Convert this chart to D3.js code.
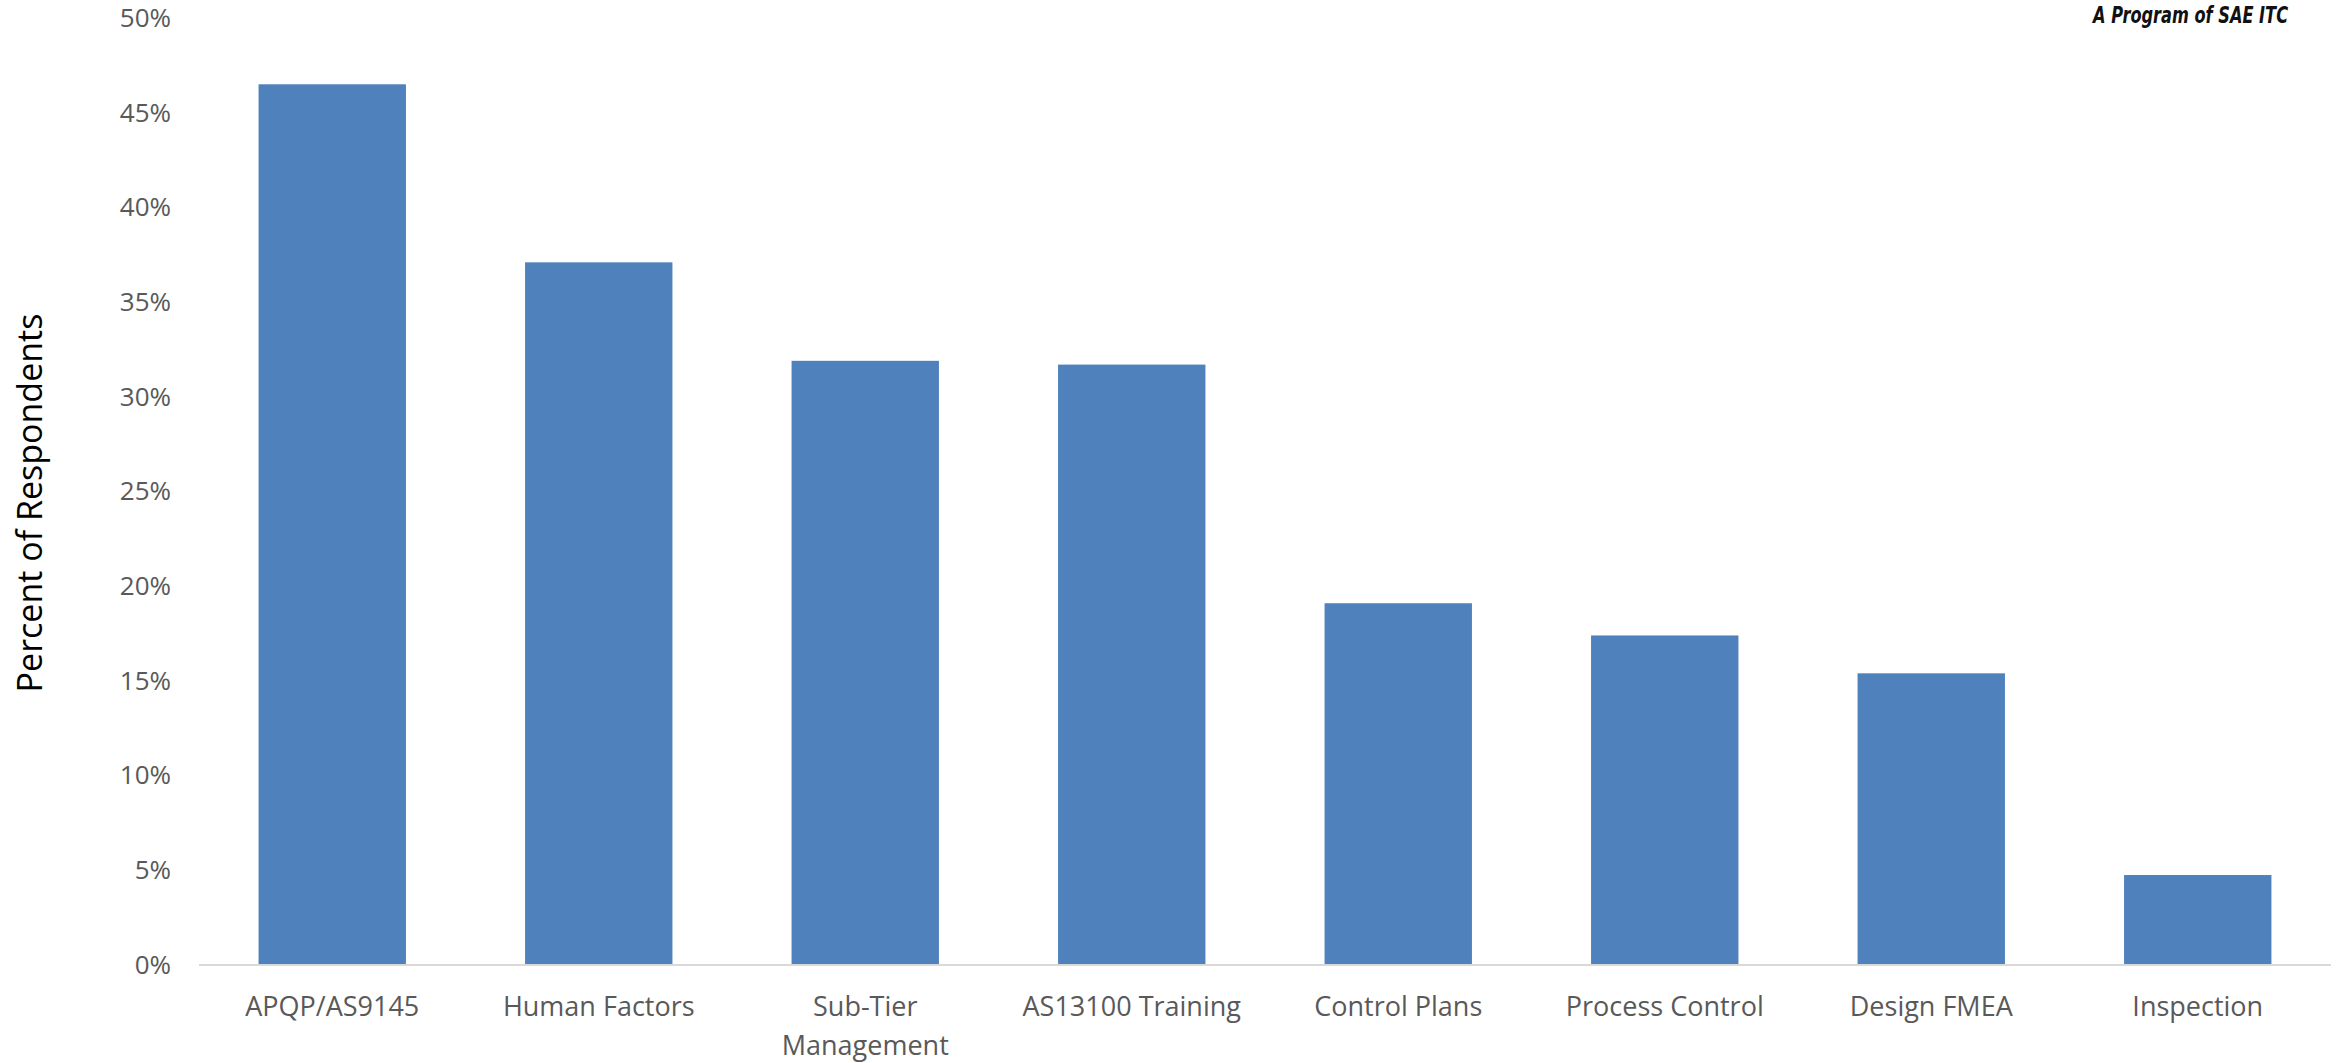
<!DOCTYPE html>
<html>
<head>
<meta charset="utf-8">
<script src="https://cdn.jsdelivr.net/npm/d3@7"></script>
<style>
  html, body { margin: 0; padding: 0; background: #fff; }
  svg { display: block; }
</style>
</head>
<body>
<svg id="chart" width="2348" height="1063"></svg>
<script>
const categories = ["APQP/AS9145", "Human Factors", "Sub-Tier Management", "AS13100 Training",
                    "Control Plans", "Process Control", "Design FMEA", "Inspection"];
const values = [0.465, 0.371, 0.319, 0.317, 0.191, 0.174, 0.154, 0.0475];
const yTicks = [0, 0.05, 0.10, 0.15, 0.20, 0.25, 0.30, 0.35, 0.40, 0.45, 0.50];
const yTitle = "Percent of Respondents";
const sourceNote = "A Program of SAE ITC";

const svg = d3.select("#chart");
const plotLeft = 199, plotRight = 2331, plotTop = 18, plotBottom = 965;

const x = d3.scaleBand().domain(categories).range([plotLeft, plotRight])
  .paddingInner(0.447).paddingOuter(0.2235);
const y = d3.scaleLinear().domain([0, 0.5]).range([plotBottom, plotTop]);

// bars
svg.append("g").selectAll("rect").data(values).join("rect")
  .attr("x", (d, i) => x(categories[i]))
  .attr("width", x.bandwidth())
  .attr("y", d => y(d))
  .attr("height", d => y(0) - y(d))
  .attr("fill", "#4F81BD");

// y axis
const yAxis = svg.append("g").attr("transform", `translate(${plotLeft},0)`)
  .call(d3.axisLeft(y).tickValues(yTicks).tickFormat(d3.format(".0%")).tickSize(0).tickPadding(28));
yAxis.select(".domain").remove();
yAxis.selectAll("text")
  .attr("font-family", "'Open Sans', sans-serif")
  .attr("font-size", 26)
  .attr("fill", "#595959");

// x axis
const xAxis = svg.append("g").attr("transform", `translate(0,${plotBottom})`)
  .call(d3.axisBottom(x).tickSize(0).tickPadding(0));
xAxis.select(".domain").attr("stroke", "#D9D9D9").attr("stroke-width", 2)
  .attr("d", `M${plotLeft},0H${plotRight}`);
xAxis.selectAll("text")
  .attr("font-family", "'Open Sans', sans-serif")
  .attr("font-size", 27)
  .attr("fill", "#595959")
  .attr("y", 0).attr("dy", null)
  .each(function(d) {
    const t = d3.select(this);
    t.text(null);
    const words = d.split(" ");
    let lines = [], cur = [];
    const probe = t.append("tspan");
    words.forEach(w => {
      const test = cur.concat([w]).join(" ");
      probe.text(test);
      if (probe.node().getComputedTextLength() > 230 && cur.length) {
        lines.push(cur.join(" "));
        cur = [w];
      } else cur.push(w);
    });
    lines.push(cur.join(" "));
    probe.remove();
    lines.forEach((ln, i) => {
      t.append("tspan").attr("x", 0).attr("y", 51 + i * 39).text(ln);
    });
  });

// y axis title
svg.append("text")
  .attr("transform", `translate(42,503) rotate(-90)`)
  .attr("text-anchor", "middle")
  .attr("font-family", "'Open Sans', sans-serif")
  .attr("font-size", 34)
  .attr("fill", "#000")
  .text(yTitle);

// source note
svg.append("text")
  .attr("x", 2288).attr("y", 23)
  .attr("text-anchor", "end")
  .attr("font-family", "'Liberation Sans Narrow', 'DejaVu Sans Condensed', 'Roboto', sans-serif")
  .attr("font-style", "italic")
  .attr("font-weight", 700)
  .attr("font-size", 23)
  .attr("textLength", 195)
  .attr("lengthAdjust", "spacingAndGlyphs")
  .attr("fill", "#111")
  .text(sourceNote);
</script>
</body>
</html>
